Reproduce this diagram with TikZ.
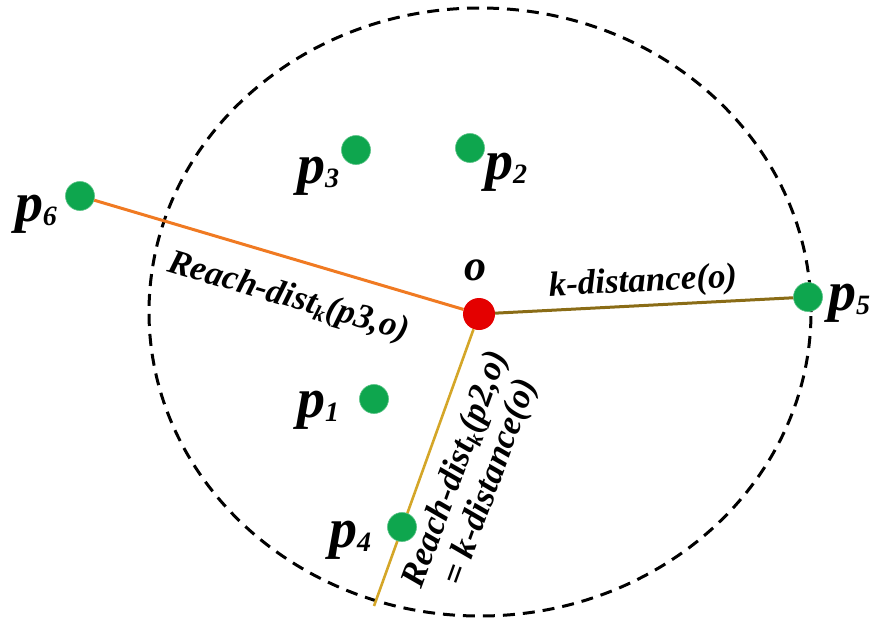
\documentclass[tikz,border=0pt]{standalone}
\usepackage{fontspec}
\setmainfont{Liberation Serif}
\definecolor{ptgreen}{RGB}{14,166,78}
\definecolor{ored}{RGB}{228,0,0}
\definecolor{lorange}{RGB}{240,122,34}
\definecolor{lolive}{RGB}{138,108,22}
\definecolor{lgold}{RGB}{212,166,40}
\newcommand{\mysub}[1]{{\fontsize{22}{22}\selectfont\raisebox{-6pt}{#1}}}
\newcommand{\plab}[1]{{\fontsize{56}{56}\selectfont p}{\fontsize{28}{28}\selectfont\raisebox{-4pt}{#1}}}
\begin{document}
\begin{tikzpicture}[x=1pt,y=-1pt,
  ptdot/.style={circle,fill=ptgreen,draw=ptgreen!70!white,line width=0.6pt,inner sep=0pt,minimum size=29pt},
  odot/.style={circle,fill=ored,inner sep=0pt,minimum size=32pt},
  ring/.style={draw=black,line width=3pt,dash pattern=on 12pt off 8pt},
  lab/.style={font=\fontsize{35}{37}\selectfont\bfseries\itshape,inner sep=0pt},
  plabel/.style={font=\bfseries\itshape,inner sep=0pt},
  olab/.style={font=\fontsize{44}{44}\selectfont\bfseries\itshape,inner sep=0pt}]
\useasboundingbox (0,0) rectangle (872,630);
\draw[ring] (480,312) ellipse [x radius=331pt, y radius=304pt];
\node[odot] (o) at (479,314) {};
\node[ptdot] (p6) at (80,196) {};
\node[ptdot] (p5) at (808,297) {};
\coordinate (e) at (374,606);
\draw[lorange,line width=3pt] (o) -- (p6);
\draw[lolive,line width=3pt] (o) -- (p5);
\draw[lgold,line width=2.6pt] (o) -- (e);
\node[ptdot] (p3) at (356,150) {};
\node[ptdot] (p2) at (470,148) {};
\node[ptdot] (p1) at (374,399) {};
\node[ptdot] (p4) at (402,527) {};
\node[plabel] (l6) at (36,214) {\plab{6}};
\node[plabel] (l3) at (318,176) {\plab{3}};
\node[plabel] (l2) at (506,172) {\plab{2}};
\node[plabel] (l5) at (849,303) {\plab{5}};
\node[plabel] (l1) at (318,410) {\plab{1}};
\node[plabel] (l4) at (350,540) {\plab{4}};
\node[olab] (lo) at (475,270) {o};
\node[lab,rotate=3] (kd) at (643,283) {k-distance(o)};
\node[lab,rotate=-16.3] (r3) at (288,298) {Reach-dist\mysub{k}(p3,o)};
\node[lab,rotate=70,align=center] (r2) at (474,476) {Reach-dist\mysub{k}(p2,o)\\= k-distance(o)};
\end{tikzpicture}
\end{document}
